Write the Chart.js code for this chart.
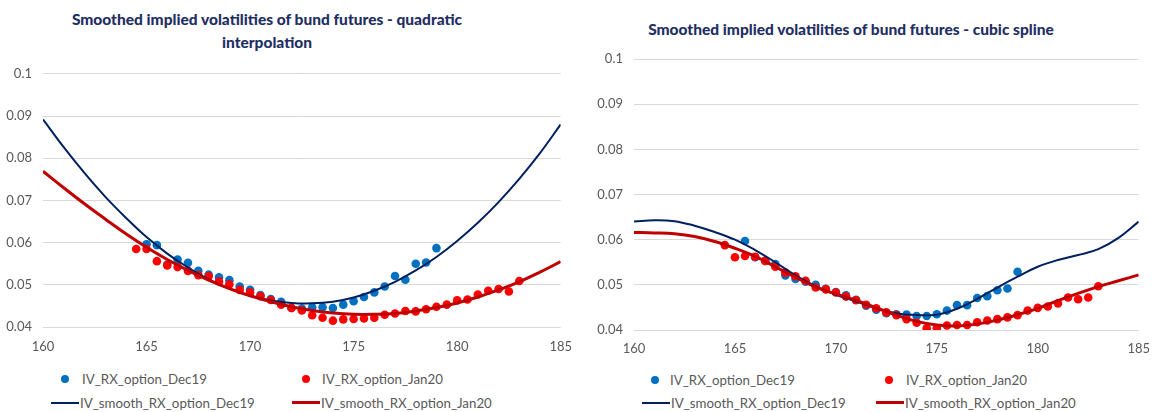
<!DOCTYPE html>
<html>
<head>
<meta charset="utf-8">
<script src="https://cdn.jsdelivr.net/npm/chart.js@4.4.0/dist/chart.umd.min.js"></script>
<style>
  body { margin: 0; width: 1153px; height: 412px; background: #fff; position: relative; overflow: hidden; font-family: Lato, sans-serif; }
  .title { position: absolute; text-align: center; color: #1F2F63; font-weight: 900; font-size: 15.5px; line-height: 23px; }
  .plot { position: absolute; }
  .leg { position: absolute; font-size: 13.3px; color: #595959; line-height: 16px; white-space: nowrap; }
  .dot { position: absolute; width: 8px; height: 8px; border-radius: 50%; }
  .ln { position: absolute; width: 28px; }
</style>
</head>
<body>
<div class="title" style="left:20px; top:8px; width:494px;">Smoothed implied volatilities of bund futures - quadratic<br>interpolation</div>
<div class="title" style="left:580px; top:18px; width:542px;">Smoothed implied volatilities of bund futures - cubic spline</div>

<div class="plot" style="left:0; top:55px; width:576px; height:300px;"><canvas id="quadChart"></canvas></div>
<div class="plot" style="left:576px; top:40px; width:577px; height:315px;"><canvas id="splineChart"></canvas></div>

<!-- legends -->
<div class="dot" style="left:61px; top:375px; background:#0070C0;"></div>
<div class="leg" style="left:82px; top:371px;">IV_RX_option_Dec19</div>
<div class="dot" style="left:302px; top:375px; background:#FF0000;"></div>
<div class="leg" style="left:322px; top:371px;">IV_RX_option_Jan20</div>
<div class="ln" style="left:51px; top:402px; height:2px; background:#002060;"></div>
<div class="leg" style="left:80px; top:395px;">IV_smooth_RX_option_Dec19</div>
<div class="ln" style="left:292px; top:401px; height:3px; background:#C00000;"></div>
<div class="leg" style="left:321px; top:395px;">IV_smooth_RX_option_Jan20</div>

<div class="dot" style="left:651px; top:376px; background:#0070C0;"></div>
<div class="leg" style="left:670px; top:372px;">IV_RX_option_Dec19</div>
<div class="dot" style="left:885px; top:376px; background:#FF0000;"></div>
<div class="leg" style="left:906px; top:372px;">IV_RX_option_Jan20</div>
<div class="ln" style="left:642px; top:402px; height:2px; background:#002060;"></div>
<div class="leg" style="left:671px; top:395px;">IV_smooth_RX_option_Dec19</div>
<div class="ln" style="left:876px; top:401px; height:3px; background:#C00000;"></div>
<div class="leg" style="left:905px; top:395px;">IV_smooth_RX_option_Jan20</div>

<script>
// strikes for the smoothed curves (1 point per strike)
const curveStrikes = [160, 161, 162, 163, 164, 165, 166, 167, 168, 169, 170, 171, 172,
                      173, 174, 175, 176, 177, 178, 179, 180, 181, 182, 183, 184, 185];

// left chart - quadratic interpolation
const quadSmoothDec19 = [0.0892, 0.0826, 0.0765, 0.0709, 0.0659, 0.0613, 0.0574, 0.0541, 0.0513,
                         0.0491, 0.0474, 0.0463, 0.0457, 0.0456, 0.0460, 0.0470, 0.0486, 0.0507,
                         0.0534, 0.0566, 0.0604, 0.0647, 0.0696, 0.0751, 0.0812, 0.0880];
const quadSmoothJan20 = [0.0769, 0.0730, 0.0692, 0.0656, 0.0621, 0.0589, 0.0560, 0.0534, 0.0511,
                         0.0491, 0.0474, 0.0460, 0.0448, 0.0439, 0.0433, 0.0430, 0.0430, 0.0432,
                         0.0438, 0.0446, 0.0457, 0.0471, 0.0488, 0.0507, 0.0530, 0.0555];

const quadStrikesDec19 = [165, 165.5, 166, 166.5, 167, 167.5, 168, 168.5, 169, 169.5, 170, 170.5,
                          171, 171.5, 172, 172.5, 173, 173.5, 174, 174.5, 175, 175.5, 176, 176.5,
                          177, 177.5, 178, 178.5, 179];
const quadIvDec19 = [0.0596, 0.0594, 0.0548, 0.0560, 0.0552, 0.0533, 0.0524, 0.0518, 0.0511, 0.0496,
                     0.0488, 0.0476, 0.0466, 0.0460, 0.0445, 0.0444, 0.0447, 0.0447, 0.0445, 0.0453,
                     0.0461, 0.0471, 0.0482, 0.0496, 0.0521, 0.0512, 0.0550, 0.0553, 0.0587];

const quadStrikesJan20 = [164.5, 165, 165.5, 166, 166.5, 167, 167.5, 168, 168.5, 169, 169.5, 170,
                          170.5, 171, 171.5, 172, 172.5, 173, 173.5, 174, 174.5, 175, 175.5, 176,
                          176.5, 177, 177.5, 178, 178.5, 179, 179.5, 180, 180.5, 181, 181.5, 182,
                          182.5, 183];
const quadIvJan20 = [0.0585, 0.0585, 0.0556, 0.0546, 0.0542, 0.0533, 0.0523, 0.0520, 0.0508, 0.0501,
                     0.0488, 0.0482, 0.0473, 0.0464, 0.0453, 0.0445, 0.0439, 0.0428, 0.0422, 0.0415,
                     0.0418, 0.0419, 0.0420, 0.0422, 0.0429, 0.0432, 0.0438, 0.0437, 0.0442, 0.0448,
                     0.0453, 0.0463, 0.0465, 0.0477, 0.0486, 0.0490, 0.0484, 0.0509];

// right chart - cubic spline
const splineSmoothDec19 = [0.0640, 0.0643, 0.0641, 0.0631, 0.0617, 0.0600, 0.0577, 0.0550, 0.0521,
                           0.0497, 0.0478, 0.0463, 0.0448, 0.0437, 0.0433, 0.0434, 0.0447, 0.0469,
                           0.0494, 0.0518, 0.0540, 0.0555, 0.0566, 0.0579, 0.0604, 0.0640];
const splineSmoothJan20 = [0.0616, 0.0615, 0.0613, 0.0607, 0.0596, 0.0581, 0.0563, 0.0540, 0.0517,
                           0.0495, 0.0480, 0.0466, 0.0449, 0.0433, 0.0419, 0.0411, 0.0409, 0.0413,
                           0.0422, 0.0434, 0.0448, 0.0465, 0.0481, 0.0496, 0.0509, 0.0522];

const splineStrikesDec19 = [165.5, 166, 166.5, 167, 167.5, 168, 168.5, 169, 169.5, 170, 170.5, 171,
                            171.5, 172, 172.5, 173, 173.5, 174, 174.5, 175, 175.5, 176, 176.5, 177,
                            177.5, 178, 178.5, 179];
const splineIvDec19 = [0.0597, 0.0561, 0.0553, 0.0546, 0.0521, 0.0513, 0.0507, 0.0500, 0.0491, 0.0484,
                       0.0477, 0.0467, 0.0454, 0.0445, 0.0437, 0.0435, 0.0434, 0.0431, 0.0431, 0.0435,
                       0.0443, 0.0455, 0.0455, 0.0471, 0.0475, 0.0488, 0.0492, 0.0529];

const splineStrikesJan20 = quadStrikesJan20;
const splineIvJan20 = [0.0588, 0.0561, 0.0564, 0.0562, 0.0553, 0.0540, 0.0527, 0.0519, 0.0509, 0.0494,
                       0.0490, 0.0483, 0.0474, 0.0466, 0.0456, 0.0448, 0.0439, 0.0433, 0.0424, 0.0416,
                       0.0404, 0.0404, 0.0410, 0.0411, 0.0411, 0.0417, 0.0421, 0.0424, 0.0428, 0.0433,
                       0.0443, 0.0449, 0.0452, 0.0459, 0.0472, 0.0468, 0.0472, 0.0497];

const xTickValues = [160, 165, 170, 175, 180, 185];
const yTickValues = [0.04, 0.05, 0.06, 0.07, 0.08, 0.09, 0.1];

const toPoints = (xs, ys) => xs.map((x, i) => ({x: x, y: ys[i]}));

function makeChart(id, ivDec, strikesDec, ivJan, strikesJan, smoothDec, smoothJan, box) {
    const ctx = document.getElementById(id).getContext('2d');
    return new Chart(ctx, {
        type: 'scatter',
        data: {
            datasets: [{
                label: 'IV_RX_option_Dec19',
                data: toPoints(strikesDec, ivDec),
                backgroundColor: '#0070C0',
                borderWidth: 0,
                pointRadius: 4.3,
                order: 4
            }, {
                label: 'IV_RX_option_Jan20',
                data: toPoints(strikesJan, ivJan),
                backgroundColor: '#FF0000',
                borderWidth: 0,
                pointRadius: 4.3,
                order: 3
            }, {
                label: 'IV_smooth_RX_option_Dec19',
                data: toPoints(curveStrikes, smoothDec),
                showLine: true,
                borderColor: '#002060',
                borderWidth: 2,
                pointRadius: 0,
                tension: 0.4,
                order: 2
            }, {
                label: 'IV_smooth_RX_option_Jan20',
                data: toPoints(curveStrikes, smoothJan),
                showLine: true,
                borderColor: '#C00000',
                borderWidth: 3,
                pointRadius: 0,
                tension: 0.4,
                order: 1
            }]
        },
        options: {
            responsive: true,
            maintainAspectRatio: false,
            animation: false,
            events: [],
            layout: { padding: { top: box.top, right: box.right, left: 0, bottom: 0 } },
            plugins: { legend: { display: false }, tooltip: { enabled: false } },
            scales: {
                x: {
                    type: 'linear',
                    min: 160,
                    max: 185,
                    afterBuildTicks: s => { s.ticks = xTickValues.map(v => ({value: v})); },
                    ticks: { padding: box.xPad, color: '#595959', font: { family: 'Lato', size: 13 } },
                    grid: { display: false },
                    border: { display: false },
                    afterFit: s => { s.height = box.xHeight; }
                },
                y: {
                    min: 0.04,
                    max: 0.1,
                    afterBuildTicks: s => { s.ticks = yTickValues.map(v => ({value: v})); },
                    ticks: {
                        padding: 11,
                        color: '#595959',
                        font: { family: 'Lato', size: 13 },
                        callback: v => String(Math.round(v * 100) / 100)
                    },
                    grid: { color: '#D9D9D9', drawTicks: false },
                    border: { display: false },
                    afterFit: s => { s.width = box.yWidth; }
                }
            }
        }
    });
}

makeChart('quadChart', quadIvDec19, quadStrikesDec19, quadIvJan20, quadStrikesJan20,
          quadSmoothDec19, quadSmoothJan20, {top: 16, right: 14, yWidth: 43, xHeight: 28, xPad: 4});
makeChart('splineChart', splineIvDec19, splineStrikesDec19, splineIvJan20, splineStrikesJan20,
          splineSmoothDec19, splineSmoothJan20, {top: 19, right: 10, yWidth: 58, xHeight: 25, xPad: 3});
</script>
</body>
</html>
